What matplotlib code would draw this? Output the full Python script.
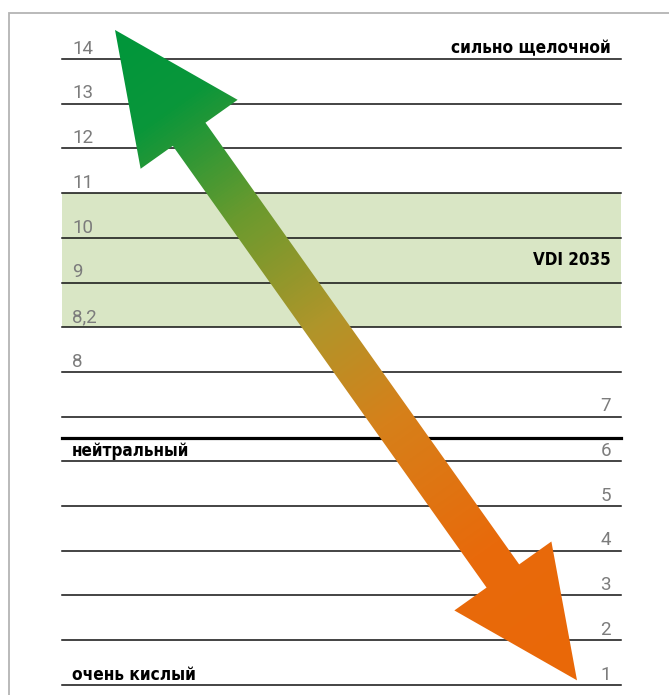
import numpy as np
import matplotlib
matplotlib.use("Agg")
import matplotlib.pyplot as plt
from matplotlib.colors import LinearSegmentedColormap
from matplotlib.patches import Polygon, Rectangle

# шкала pH: подписи строк сверху вниз
row_labels = ['14', '13', '12', '11', '10', '9', '8,2', '8', '7', '6', '5', '4', '3', '2', '1']
left_count = 8                 # первые 8 подписей слева, остальные справа
neutral_row = 8.47             # жирная линия "нейтральный"
vdi_band = (3, 6)              # зелёная полоса VDI 2035 (от 11 до 8,2)
arrow_rows = (-0.65, 13.9)     # остриё стрелки сверху и снизу
arrow_x = (115, 577)

# раскладка
W, H = 669, 695
ROW_PX = 44.7
TOP_PX = 59.0
X0, X1 = 62, 621
XL, XR = 72, 611

fig = plt.figure(figsize=(W / 100, H / 100), dpi=100)
ax = fig.add_axes([0, 0, 1, 1])
ax.set_xlim(0, W)
row_top = -TOP_PX / ROW_PX
row_bot = (H - TOP_PX) / ROW_PX
ax.set_ylim(row_bot, row_top)
ax.axis('off')

num_style = dict(family=['Roboto', 'DejaVu Sans'], fontweight='normal', fontsize=13.5,
                 color='#7c7c7c')
bold_style = dict(family=['DejaVu Sans'], fontstretch='condensed', fontweight='bold',
                  color='black')

# рамка
fig.add_artist(Rectangle((9 / W, -0.1), 1.2, (H - 13) / H + 0.1, transform=fig.transFigure,
                         fill=False, ec='#b4b4b4', lw=1.3))

# зелёная полоса
ax.add_patch(Rectangle((X0, vdi_band[0]), X1 - X0, vdi_band[1] - vdi_band[0],
                       fc='#d9e6c5', ec='none', zorder=1))

# линии
for i in range(len(row_labels)):
    ax.plot([X0, X1], [i, i], color='#111111', lw=1.1, zorder=2)
ax.plot([X0, X1], [neutral_row, neutral_row], color='black', lw=2.3, zorder=2)

# подписи
for i, lab in enumerate(row_labels):
    if i < left_count:
        ax.annotate(lab, (XL, i), xytext=(0, 3.8), textcoords='offset points',
                    ha='left', va='baseline', zorder=3, **num_style)
    else:
        ax.annotate(lab, (XR, i), xytext=(0, 3.8), textcoords='offset points',
                    ha='right', va='baseline', zorder=3, **num_style)

titles = [
    ax.annotate('сильно щелочной', (XR, 0), xytext=(0, 3.8), textcoords='offset points',
                ha='right', va='baseline', fontsize=14, zorder=3, **bold_style),
    ax.annotate('нейтральный', (XL, 9), xytext=(0, 3.8), textcoords='offset points',
                ha='left', va='baseline', fontsize=14, zorder=3, **bold_style),
    ax.annotate('очень кислый', (XL, 14), xytext=(0, 3.8), textcoords='offset points',
                ha='left', va='baseline', fontsize=14, zorder=3, **bold_style),
    ax.text(XR, (vdi_band[0] + vdi_band[1]) / 2, 'VDI 2035', ha='right', va='center',
            fontsize=14, zorder=3, **bold_style),
]
target_w = [147, 108, 114, 71]

# подгонка ширины надписей под оригинал (чуть крупнее ради высоты букв)
fig.canvas.draw()
r = fig.canvas.get_renderer()
for tx, tw in zip(titles, target_w):
    w = tx.get_window_extent(r).width
    tx.set_fontsize(min(16, 1.1 * 14 * tw / w))

# двойная стрелка с градиентом
fig.canvas.draw()
A = ax.transData.transform((arrow_x[0], arrow_rows[0]))
B = ax.transData.transform((arrow_x[1], arrow_rows[1]))
d = B - A
L = np.hypot(*d)
u = d / L
n = np.array([-u[1], u[0]])
hl, hw, sw = 128, 59.5, 20
pts = [A, A + hl * u + hw * n, A + hl * u + sw * n, B - hl * u + sw * n,
       B - hl * u + hw * n, B, B - hl * u - hw * n, B - hl * u - sw * n,
       A + hl * u - sw * n, A + hl * u - hw * n]
pts_data = ax.transData.inverted().transform(np.array(pts))
arrow = Polygon(pts_data, closed=True, fc='none', ec='none', transform=ax.transData)
ax.add_patch(arrow)

# градиент вдоль оси стрелки (в пикселях экрана)
yy, xx = np.mgrid[H - 0.5:0:-1, 0.5:W:1]
t = ((xx - A[0]) * u[0] + (yy - A[1]) * u[1]) / L
cmap = LinearSegmentedColormap.from_list('ph', [
    (0.0, '#00963a'), (0.12, '#0a963a'), (0.28, '#6a9a2e'), (0.45, '#b0952a'),
    (0.6, '#d6801a'), (0.8, '#e86a0b'), (1.0, '#ea6808')])
img = ax.imshow(np.clip(t, 0, 1), cmap=cmap, vmin=0, vmax=1, extent=(0, W, row_bot, row_top),
                origin='upper', aspect='auto', interpolation='bilinear', zorder=4)
img.set_clip_path(arrow)

fig.savefig('out.png', dpi=100)
